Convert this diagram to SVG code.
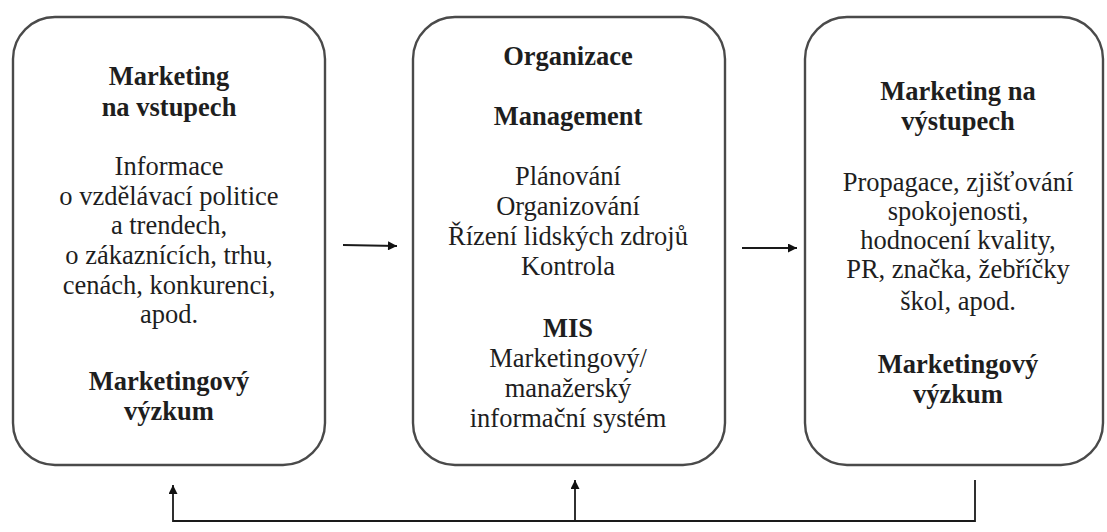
<svg xmlns="http://www.w3.org/2000/svg" width="1107" height="532" viewBox="0 0 1107 532">
<style>
.box{fill:#fff;stroke:#4a4a4a;stroke-width:2.4}
.t{font-family:'Liberation Serif','Times New Roman',serif;font-size:26.5px;fill:#1e1e1e;text-anchor:middle}
.b{font-weight:bold}
.ln{fill:none;stroke:#1a1a1a;stroke-width:1.8}
</style>
<defs>
<marker id="ah" viewBox="0 0 10 10" refX="10" refY="5" markerWidth="10" markerHeight="9" markerUnits="userSpaceOnUse" orient="auto">
<path d="M0,0 L10,5 L0,10 Z" fill="#111"/>
</marker>
</defs>
<rect width="1107" height="532" fill="#fff"/>
<g id="node-vstupy">
<rect class="box" x="13" y="17" width="312" height="448" rx="42" ry="42"/>
<text class="t b" x="169" y="85">Marketing</text>
<text class="t b" x="169" y="116">na vstupech</text>
<text class="t" x="169" y="175">Informace</text>
<text class="t" x="169" y="205">o vzdělávací politice</text>
<text class="t" x="169" y="234">a trendech,</text>
<text class="t" x="169" y="264">o zákaznících, trhu,</text>
<text class="t" x="169" y="294">cenách, konkurenci,</text>
<text class="t" x="169" y="323">apod.</text>
<text class="t b" x="169" y="390">Marketingový</text>
<text class="t b" x="169" y="420">výzkum</text>
</g>
<g id="node-organizace">
<rect class="box" x="413" y="17" width="312" height="448" rx="42" ry="42"/>
<text class="t b" x="568" y="65">Organizace</text>
<text class="t b" x="568" y="125">Management</text>
<text class="t" x="568" y="185">Plánování</text>
<text class="t" x="568" y="215">Organizování</text>
<text class="t" x="568" y="245">Řízení lidských zdrojů</text>
<text class="t" x="568" y="275">Kontrola</text>
<text class="t b" x="568" y="337">MIS</text>
<text class="t" x="568" y="367">Marketingový/</text>
<text class="t" x="568" y="397">manažerský</text>
<text class="t" x="568" y="427">informační systém</text>
</g>
<g id="node-vystupy">
<rect class="box" x="805" y="17" width="298" height="448" rx="42" ry="42"/>
<text class="t b" x="958" y="100">Marketing na</text>
<text class="t b" x="958" y="130">výstupech</text>
<text class="t" x="958" y="191">Propagace, zjišťování</text>
<text class="t" x="958" y="220">spokojenosti,</text>
<text class="t" x="958" y="249">hodnocení kvality,</text>
<text class="t" x="958" y="278">PR, značka, žebříčky</text>
<text class="t" x="958" y="310">škol, apod.</text>
<text class="t b" x="958" y="373">Marketingový</text>
<text class="t b" x="958" y="403">výzkum</text>
</g>
<g id="connectors">
<line class="ln" x1="343" y1="245" x2="397" y2="246" marker-end="url(#ah)"/>
<line class="ln" x1="742" y1="248" x2="797" y2="248" marker-end="url(#ah)"/>
<polyline class="ln" points="975,480 975,521 173,521 173,485" marker-end="url(#ah)"/>
<line class="ln" x1="575" y1="521" x2="575" y2="480" marker-end="url(#ah)"/>
</g>
</svg>
